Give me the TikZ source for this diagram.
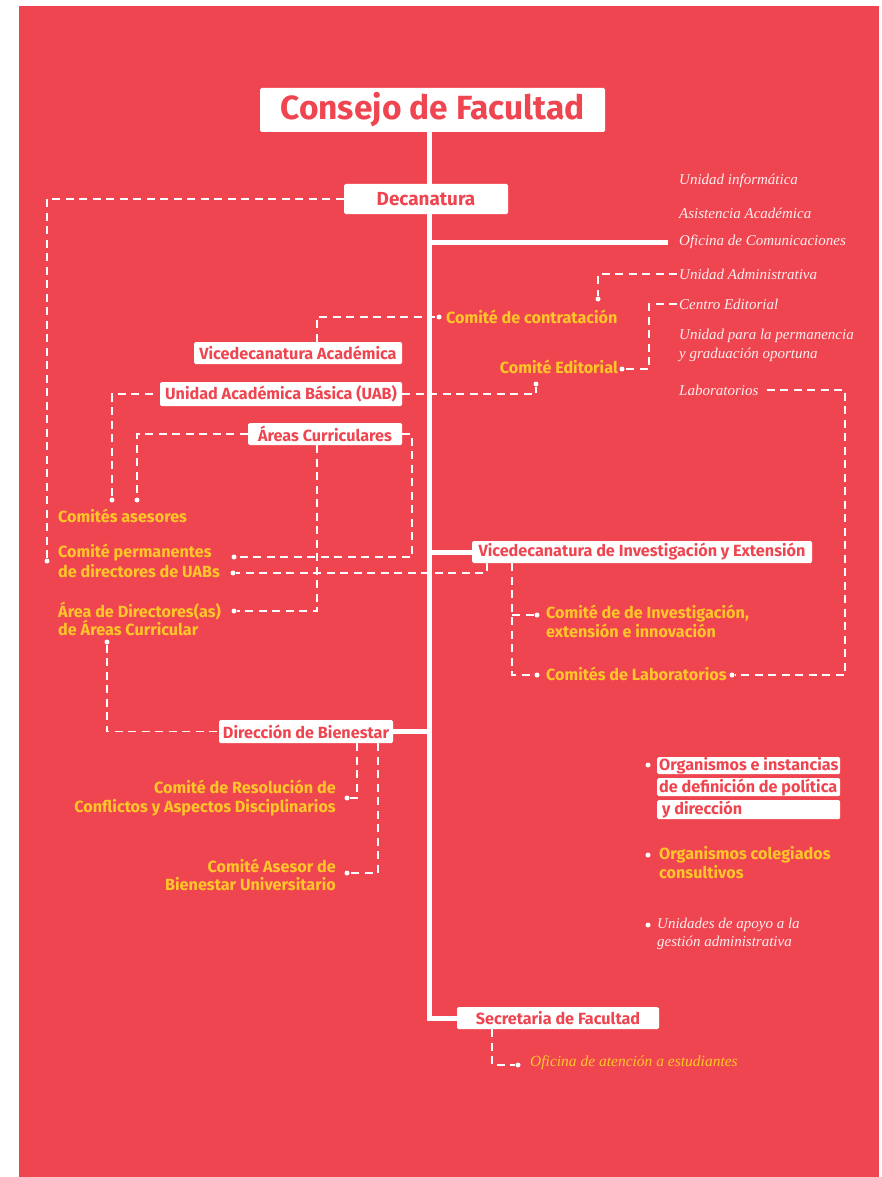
\documentclass[tikz,border=0pt]{standalone}
\usepackage{fontspec}
\setmainfont{Fira Sans}
\newfontfamily\serifit{Liberation Serif}
\usetikzlibrary{calc}
\definecolor{bgred}{RGB}{239,69,80}
\definecolor{yl}{RGB}{255,198,41}
\definecolor{wt}{RGB}{255,238,238}
\pgfdeclarelayer{background}
\pgfdeclarelayer{conn}
\pgfsetlayers{background,conn,main}
\tikzset{
 wbox/.style={fill=white, rounded corners=1.5pt, inner sep=0pt, text=bgred, font=\fontsize{16.2}{18}\selectfont\bfseries},
 legbox/.style={wbox, anchor=north west, inner xsep=2pt, minimum width=183pt},
 ylab/.style={inner sep=0pt, text=yl, font=\fontsize{16.2}{18.5}\selectfont\bfseries},
 itlab/.style={inner sep=0pt, text=wt, font=\fontsize{15}{18.5}\selectfont\serifit\itshape},
 dot/.style={circle, fill=white, inner sep=0pt, minimum size=5pt},
 dl/.style={draw=white, line width=1.4pt, dash pattern=on 8pt off 5.5pt},
 spineline/.style={draw=white, line width=5pt},
}
\begin{document}
\begin{tikzpicture}[x=1pt,y=-1pt]
\useasboundingbox (0,0) rectangle (881,1177);
\begin{pgfonlayer}{background}
\fill[white] (0,0) rectangle (881,1177);
\fill[bgred] (19,6) rectangle (879,1177);
\end{pgfonlayer}
\coordinate (spine) at (429.5,0);
% boxes
\node[wbox, minimum width=345pt, minimum height=44pt, font=\fontsize{33.5}{38}\selectfont\bfseries] (consejo) at (432.5,110) {Consejo de Facultad};
\node[wbox, minimum width=164pt, minimum height=30pt, font=\fontsize{18.9}{21}\selectfont\bfseries] (deca) at (426,199) {Decanatura};
\node[wbox, minimum width=208pt, minimum height=22pt] (va) at (298,353) {Vicedecanatura Académica};
\node[wbox, minimum width=242pt, minimum height=24pt] (uab) at (281,394) {Unidad Académica Básica (UAB)};
\node[wbox, minimum width=154pt, minimum height=22pt] (areas) at (325,434) {Áreas Curriculares};
\node[wbox, minimum width=340pt, minimum height=22pt] (vie) at (642,552) {Vicedecanatura de Investigación y Extensión};
\node[wbox, minimum width=174pt, minimum height=23pt] (dir) at (306,731.5) {Dirección de Bienestar};
\node[wbox, minimum width=202pt, minimum height=22pt] (sec) at (558,1018) {Secretaria de Facultad};
% italic support units
\node[itlab, anchor=west] (uinf) at (679,181) {Unidad informática};
\node[itlab, anchor=west] (asis) at (679,213) {Asistencia Académica};
\node[itlab, anchor=west] (ofi) at (679,242) {Oficina de Comunicaciones};
\node[itlab, anchor=west] (uadm) at (679,274) {Unidad Administrativa};
\node[itlab, anchor=west] (cedit) at (679,304) {Centro Editorial};
\node[itlab, anchor=west, align=left] (uperm) at (679,345.5) {Unidad para la permanencia\\y graduación oportuna};
\node[itlab, anchor=west] (lab) at (679,390) {Laboratorios};
% yellow committees
\node[ylab, anchor=west] (ccontr) at (446,317) {Comité de contratación};
\node[ylab, anchor=east] (ceditl) at (618,367) {Comité Editorial};
\node[ylab, anchor=west] (casesores) at (58,516) {Comités asesores};
\node[ylab, anchor=west, align=left, font=\fontsize{16.2}{20}\selectfont\bfseries] (cperm) at (58,561) {Comité permanentes\\de directores de UABs};
\node[ylab, anchor=west, align=left] (adir) at (58,619) {Área de Directores(as)\\de Áreas Curricular};
\node[ylab, anchor=east, align=right] (cres) at (336,798) {Comité de Resolución de\\Conflictos y Aspectos Disciplinarios};
\node[ylab, anchor=east, align=right] (cabu) at (336,875) {Comité Asesor de\\Bienestar Universitario};
\node[ylab, anchor=west, align=left] (cinv) at (546,621.5) {Comité de de Investigación,\\extensión e innovación};
\node[ylab, anchor=west] (clab) at (546,674) {Comités de Laboratorios};
\node[itlab, anchor=west, text=yl, font=\fontsize{15.5}{18.5}\selectfont\serifit\itshape] (oae) at (530,1063) {Oficina de atención a estudiantes};
% legend
\node[legbox, minimum height=17pt] (leg1a) at (657,757) {\makebox[179pt][l]{Organismos e instancias}};
\node[legbox, minimum height=18pt] (leg1b) at (657,778) {\makebox[179pt][l]{de definición de política}};
\node[legbox, minimum height=19pt] (leg1c) at (657,800) {\makebox[179pt][l]{\hspace{3pt}y dirección}};
\node[ylab, anchor=west, align=left, font=\fontsize{16.2}{19}\selectfont\bfseries] (leg2) at (659,862.5) {Organismos colegiados\\consultivos};
\node[itlab, anchor=west, align=left] (leg3) at (657,934) {Unidades de apoyo a la\\gestión administrativa};
\node[dot] (b1) at (648,765) {};
\node[dot] (b2) at (648,855) {};
\node[dot] (b3) at (648,925) {};
% dots
\node[dot] (d1) at (47,561) {};
\node[dot] (d2) at (598,299) {};
\node[dot] (d3) at (622,369) {};
\node[dot] (d4) at (439,317) {};
\node[dot] (d5) at (112,500) {};
\node[dot] (d6) at (536,384) {};
\node[dot] (d7) at (137,500) {};
\node[dot] (d8) at (234,557) {};
\node[dot] (d9) at (234,611) {};
\node[dot] (d10) at (233,573) {};
\node[dot] (d11) at (107,642) {};
\node[dot] (d12) at (347,798) {};
\node[dot] (d13) at (347,873) {};
\node[dot] (d14) at (537,615) {};
\node[dot] (d15) at (537,675) {};
\node[dot] (d16) at (732,675) {};
\node[dot] (d17) at (518,1065) {};
\coordinate (w3) at (649,369);
\coordinate (w8) at (412,557);
\coordinate (w14) at (512,615);
\coordinate (w16) at (845,675);
\begin{pgfonlayer}{conn}
\draw[spineline] (consejo.south -| spine) |- (sec.west);
\draw[spineline] (spine |- ofi.west) -- ([xshift=-11pt]ofi.west);
\draw[spineline] (spine |- vie.west) -- (vie.west);
\draw[spineline] (dir.east) -- (spine |- dir.east);
\draw[dl] (deca.west) -| (d1);
\draw[dl] ([xshift=-2pt]uadm.west) -| (d2);
\draw[dl] ([xshift=-2pt]cedit.west) -| (w3) -- (d3);
\draw[dl] ([xshift=19pt]va.north) |- (d4);
\draw[dl] ([xshift=-7pt]uab.west) -| (d5);
\draw[dl] (uab.east) -| (d6);
\draw[dl] (areas.west) -| (d7);
\draw[dl] (areas.east) -| (w8) -- (d8);
\draw[dl] ([xshift=-8pt]areas.south) |- (d9);
\draw[dl] ([xshift=-155pt]vie.south) |- (d10);
\draw[dl] (d11) |- (dir.west);
\draw[dl] ([xshift=51pt]dir.south) |- (d12);
\draw[dl] ([xshift=72pt]dir.south) |- (d13);
\draw[dl] ([xshift=-130pt]vie.south) |- (d15);
\draw[dl] (w14) -- (d14);
\draw[dl] ([xshift=8pt]lab.east) -| (w16) -- (d16);
\draw[dl] ([xshift=-66pt]sec.south) |- (d17);
\end{pgfonlayer}
\end{tikzpicture}
\end{document}
